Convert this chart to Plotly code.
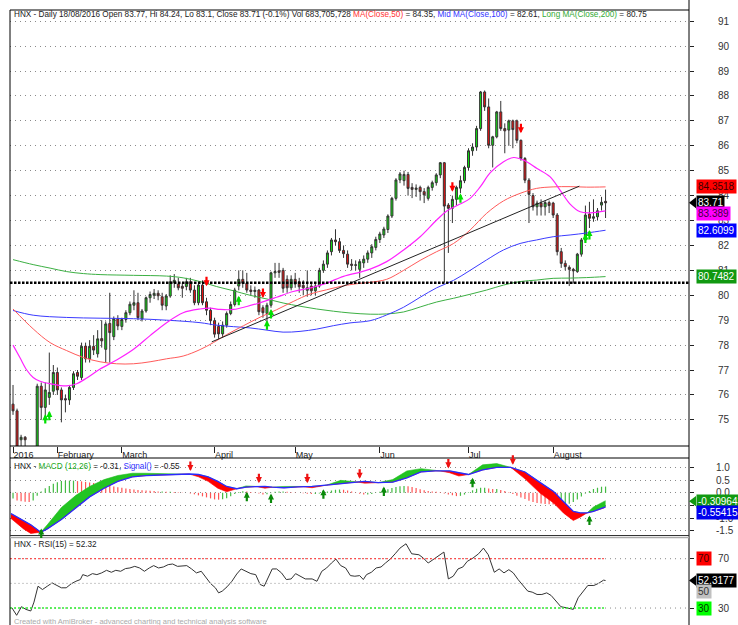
import plotly.graph_objects as go

W, H = 738, 625
FONT = "Liberation Sans, Arial, sans-serif"

def px(x):
    return x / W

def py(y):
    return 1 - y / H

# ---------------- price data (trading-day index 0 = 15 Jan 2016) ----------------
open_ = [75.63,75.36,74.20,74.30,73.80,73.40,73.70,76.35,75.50,75.90,
 76.15,76.90,76.20,75.85,75.80,76.30,76.90,76.70,77.96,77.45,
 77.95,77.65,78.26,77.83,78.87,78.34,79.06,78.75,79.03,79.30,
 79.60,79.70,79.05,79.37,79.90,80.00,80.08,79.94,79.57,79.97,
 80.50,80.45,80.36,80.35,80.54,80.21,79.70,80.41,79.74,79.40,
 78.98,78.75,78.45,78.80,79.27,79.63,80.37,80.64,80.48,80.21,
 80.15,80.21,79.50,79.27,79.60,80.90,80.98,81.00,80.64,80.30,
 80.64,80.54,80.40,80.20,80.37,80.18,80.37,81.00,81.25,81.75,
 82.22,82.15,81.80,81.65,81.25,81.20,81.04,81.30,81.45,81.70,
 81.92,82.24,82.42,82.64,83.18,83.89,84.63,84.60,84.85,84.33,
 84.25,84.33,84.16,83.89,84.33,84.52,84.83,85.32,83.62,83.49,
 83.85,84.30,84.60,85.13,85.80,85.95,86.69,88.16,87.56,86.02,
 86.36,87.36,86.69,86.63,87.00,87.00,86.22,85.49,84.62,84.00,
 83.55,83.70,83.55,83.72,83.70,83.22,81.75,81.28,81.12,81.04,
 80.95,81.65,82.22,83.26,83.09,83.15,83.62,83.77]
high = [76.40,75.45,74.40,74.35,73.90,73.85,76.45,76.50,76.50,77.70,
 77.20,77.10,76.30,76.00,76.40,76.95,77.00,78.10,78.10,78.20,
 78.40,78.60,79.00,78.95,80.10,79.15,79.20,79.10,79.40,79.75,
 80.20,80.10,79.45,79.95,80.15,80.25,80.20,80.10,80.05,80.80,
 80.85,80.70,80.50,80.70,80.70,80.40,80.50,80.60,79.90,79.50,
 79.10,78.90,78.95,79.35,79.75,80.30,81.00,81.00,80.90,80.40,
 80.35,80.25,79.60,79.70,80.95,81.30,81.30,81.10,80.80,80.80,
 80.90,80.70,80.60,81.00,80.50,80.50,81.10,81.40,81.80,82.30,
 82.65,82.30,82.00,81.80,81.45,81.40,81.45,81.60,81.80,82.05,
 82.35,82.55,82.75,83.25,83.95,84.70,84.95,85.00,84.95,84.50,
 84.45,84.40,84.30,84.40,84.60,84.90,85.35,85.35,83.70,84.00,
 84.40,84.80,85.20,85.90,86.10,86.80,88.20,88.22,87.90,86.40,
 87.40,87.80,86.90,87.05,87.05,87.05,86.25,85.55,84.70,84.10,
 83.80,83.85,83.80,83.80,83.75,83.30,81.90,81.40,81.20,81.10,
 81.70,82.30,83.60,83.75,83.85,83.50,83.95,84.24]
low = [75.20,73.80,73.95,73.95,73.20,73.20,73.60,75.00,75.10,75.60,
 76.00,76.00,74.90,75.30,75.60,76.20,76.60,76.60,77.30,77.30,
 77.60,77.50,77.90,77.30,77.30,78.20,78.60,78.60,78.90,79.20,
 79.40,79.00,78.95,79.30,79.70,79.85,79.80,79.40,79.40,79.90,
 80.30,80.20,79.90,80.20,80.10,79.60,79.60,79.60,79.20,78.80,
 78.30,78.25,78.30,78.70,79.20,79.55,80.20,80.30,80.10,80.00,
 79.90,79.20,79.10,78.90,79.50,80.70,80.70,80.10,80.10,80.20,
 80.30,80.10,80.00,79.94,80.00,80.00,80.30,80.90,81.10,81.60,
 82.00,81.70,81.50,81.10,81.00,81.00,80.70,81.10,81.30,81.50,
 81.80,82.10,82.30,82.50,83.10,83.80,84.50,84.40,84.00,83.90,
 83.95,83.80,83.70,83.80,84.20,84.40,84.70,80.52,81.70,82.90,
 83.60,84.10,84.50,85.00,85.60,85.80,86.60,87.40,85.90,85.13,
 86.30,86.60,85.70,86.00,85.90,86.10,85.40,84.50,82.90,83.40,
 83.20,83.20,83.20,83.30,83.10,81.60,81.10,81.00,80.37,80.47,
 80.90,81.55,82.10,82.70,82.95,83.00,83.40,83.10]
close = [75.36,73.90,74.30,74.20,73.40,73.70,76.35,75.50,76.20,76.10,
 76.90,76.20,75.80,75.80,76.30,76.85,76.75,77.95,77.45,77.95,
 77.80,78.25,78.17,78.85,78.50,79.06,78.77,79.03,79.30,79.64,
 79.70,79.10,79.37,79.90,80.03,80.08,79.98,79.60,79.97,80.54,
 80.60,80.30,80.28,80.54,80.21,79.70,80.41,79.70,79.40,78.98,
 78.44,78.45,78.80,79.27,79.63,80.21,80.64,80.48,80.21,80.15,
 80.20,79.34,79.30,79.60,80.90,80.95,80.92,80.28,80.30,80.64,
 80.45,80.34,80.30,80.30,80.18,80.37,81.00,81.25,81.70,82.22,
 82.15,81.80,81.67,81.25,81.20,81.22,81.35,81.45,81.70,81.95,
 82.24,82.46,82.66,83.18,83.89,84.63,84.87,84.85,84.29,84.25,
 84.30,84.16,84.03,84.33,84.52,84.83,85.32,83.58,83.49,83.85,
 84.33,84.60,85.13,85.80,85.95,86.69,88.16,87.56,86.02,86.36,
 87.36,86.69,86.60,87.00,86.65,86.22,85.49,84.62,84.05,83.55,
 83.70,83.55,83.72,83.60,83.22,81.75,81.28,81.15,81.04,80.98,
 81.65,82.22,83.22,83.09,83.15,83.39,83.73,83.71]
days = list(range(len(close)))

month_ticks = [0, 11, 27, 50, 70, 91, 113, 134]
month_labels = ["2016", "February", "March", "April", "May", "Jun", "Jul", "August"]

# moving averages (read at sample positions)
ma20_x = [0,1.7,3.4,5,6.7,9.2,13.3,15.8,18.3,21.6,25.7,29.9,34,38.1,42.2,46.4,48.9,51.4,54.7,58,61.3,65.4,69.5,73.7,77.8,82,86.1,88.6,92.7,96.9,101,105.1,107.6,110.9,113.4,115.9,118.4,121.7,124.2,126.7,130,133.2,135.7,138.2,140.7,143.2,147]
ma20_v = [78.0,77.5,77.0,76.7,76.55,76.45,76.36,76.45,76.68,77.04,77.4,77.83,78.38,78.9,79.3,79.45,79.48,79.43,79.43,79.55,79.7,79.92,80.15,80.29,80.49,80.76,80.93,81.05,81.35,81.82,82.35,83.02,83.38,83.66,83.89,84.35,84.92,85.36,85.53,85.42,85.09,84.76,84.22,83.66,83.35,83.31,83.39]
ma50_x = [0,5,9.2,13.3,17.5,21.6,25.7,29.9,34,38.1,42.2,46.4,49.7,53,57.2,61.3,65.4,69.5,73.7,77.8,82,86.1,88.6,92.7,96.9,101,105.1,109.3,113.4,117.5,121.7,125.8,129.9,134,138.2,142.3,147]
ma50_v = [79.45,78.65,78.1,77.78,77.5,77.33,77.25,77.25,77.33,77.45,77.56,77.82,78.1,78.42,78.78,79.12,79.42,79.75,80.05,80.22,80.38,80.48,80.52,80.64,81.0,81.4,81.75,82.08,82.62,83.29,83.79,84.09,84.29,84.35,84.36,84.34,84.35]
ma100_x = [0,5,13.3,21.6,29.9,38.1,46.4,50.5,54.7,58.8,63,67,71.2,75.3,79.5,83.6,88.6,92.7,96.9,101,105.1,109.3,113.4,117.5,121.7,125.8,129.9,134,138.2,142.3,147]
ma100_v = [79.39,79.2,79.11,79.08,79.06,79.0,78.9,78.8,78.74,78.69,78.6,78.52,78.55,78.64,78.78,78.89,78.98,79.21,79.52,79.92,80.3,80.6,81.0,81.42,81.82,82.08,82.22,82.35,82.42,82.5,82.61]
ma200_x = [0,5,9.2,13.3,17.5,21.6,29.9,38.1,42.2,46.4,50.5,54.7,58.8,63,67,71.2,75.3,79.5,83.6,88.6,92.7,96.9,101,105.1,109.3,113.4,117.5,121.7,125.8,129.9,134,138.2,142.3,147]
ma200_v = [81.43,81.23,81.09,80.95,80.87,80.83,80.8,80.77,80.7,80.55,80.35,80.18,80.0,79.85,79.69,79.56,79.45,79.36,79.29,79.24,79.25,79.33,79.53,79.73,79.88,80.04,80.21,80.41,80.55,80.61,80.68,80.69,80.71,80.75]
trend_x = [49.3, 140.5]
trend_y = [78.13, 84.38]
support_level = 80.5

buy_x = [8, 9, 56, 63, 64, 111, 142, 143]
buy_y = [75.23, 75.36, 79.98, 79.0, 79.45, 84.09, 82.48, 82.62]
sell_x = [48, 62, 109, 126]
sell_y = [80.36, 79.89, 84.15, 86.5]

# ---------------- MACD ----------------
macd_x = [-0.5,2.6,4.4,6.9,8.5,12,15.6,19,22.6,26,29.6,33,36.7,40.2,43.7,46,48.4,50.8,53,55.5,57.8,60,62.5,64.3,67.2,70.7,74.2,77.7,81.3,84.8,87.2,90.6,94.2,97.7,101.2,104.7,108.3,110.6,113,116.5,120,123.5,127,130.8,134.1,136.6,139,140.7,142.4,144,146.6,147]
macd_v = [-1.01,-1.42,-1.60,-1.55,-1.26,-0.58,-0.10,0.25,0.52,0.68,
 0.77,0.77,0.75,0.75,0.74,0.63,0.45,0.18,0.04,0.16,
 0.27,0.26,0.18,0.22,0.25,0.26,0.20,0.30,0.49,0.44,
 0.38,0.40,0.52,0.86,0.95,0.90,0.79,0.66,0.72,1.10,
 1.15,1.00,0.55,-0.02,-0.40,-0.80,-1.09,-0.96,-0.79,-0.56,
 -0.34,-0.31]
signal_v = [-0.82,-1.12,-1.26,-1.55,-1.42,-1.05,-0.58,-0.16,0.18,0.45,
 0.63,0.68,0.70,0.72,0.74,0.72,0.63,0.45,0.25,0.16,
 0.22,0.24,0.25,0.22,0.20,0.23,0.25,0.30,0.36,0.42,
 0.45,0.40,0.42,0.59,0.82,0.86,0.86,0.79,0.72,0.90,
 1.00,1.00,0.82,0.40,0.05,-0.35,-0.73,-0.79,-0.79,-0.73,
 -0.60,-0.554]
hist_v = [-0.22,-0.30,-0.33,-0.35,-0.36,-0.30,-0.12,0.05,0.18,0.27,
 0.36,0.42,0.46,0.47,0.48,0.48,0.46,0.45,0.43,0.41,
 0.39,0.37,0.35,0.33,0.30,0.25,0.22,0.20,0.17,0.15,
 0.13,0.11,0.10,0.09,0.08,0.07,0.05,0.05,0.04,0.04,
 0.03,0.02,0.01,0.00,-0.03,-0.06,-0.10,-0.14,-0.18,-0.22,
 -0.26,-0.27,-0.25,-0.21,-0.14,-0.05,0.03,0.06,0.05,0.03,
 0.01,-0.03,-0.07,-0.06,-0.01,0.04,0.05,0.05,0.04,0.02,
 0.01,0.00,-0.02,-0.04,-0.05,-0.05,-0.03,0.01,0.05,0.09,
 0.12,0.13,0.12,0.09,0.05,0.01,-0.04,-0.07,-0.07,-0.05,
 -0.01,0.04,0.09,0.14,0.19,0.23,0.26,0.27,0.26,0.23,
 0.19,0.14,0.10,0.07,0.05,0.04,0.02,-0.03,-0.07,-0.10,
 -0.13,-0.12,-0.07,0.02,0.10,0.16,0.20,0.20,0.17,0.15,
 0.15,0.11,0.07,0.02,-0.05,-0.12,-0.18,-0.24,-0.31,-0.36,
 -0.40,-0.42,-0.44,-0.45,-0.46,-0.48,-0.47,-0.46,-0.43,-0.36,
 -0.26,-0.15,-0.03,0.07,0.15,0.20,0.24,0.245]
macd_buy_x = [7, 58, 64, 77, 92, 114, 143]
macd_buy_y = [-1.40, 0.04, -0.03, 0.14, 0.25, 0.59, -0.89]
macd_sell_x = [44, 61, 73, 86, 108, 124]
macd_sell_y = [0.86, 0.38, 0.38, 0.55, 0.96, 1.10]

# ---------------- RSI ----------------
rsi_x = [-0.3,0.9,2.1,3.2,4.4,5.2,6.2,7.3,8.5,9.7,10.9,12,13.2,14.4,15.6,16.7,17.3,18.5,19.7,20.8,22,23.2,24.4,25.5,26.7,27.9,29,30.2,31.4,32.6,33.8,34.9,36.1,37.3,38.5,39.6,40.8,42,43.1,44.3,45.5,46.7,47.8,49,50.2,51,51.9,53.1,54.3,55.5,56.6,57.8,59,60.2,61.3,62.3,63.1,64.3,65.4,66.6,67.8,69,70.1,71.3,72.5,74.2,75.4,76.6,77.8,79,80.1,81.3,82.5,83.7,84.8,86,86.9,87.7,88.9,90.1,91.3,92.4,93.6,94.8,96,97.5,98.9,100.7,101.8,103,104.2,105.3,106.9,108,109.2,110.4,111.6,112.7,114.1,115.5,116.7,117.9,119.4,120.6,121.8,123,124.1,125.3,126.5,127.7,128.8,130,131.2,132.4,133.5,134.7,135.9,137.6,139,140.2,141.4,142.6,144.1,145.2,146.5,147]
rsi_v = [30.3,24.1,31.1,28.9,27.6,34.8,47.7,45,47.7,50.4,48.3,46.4,46.4,49.6,51.7,53.1,57.1,55.8,57.9,57.1,58.5,60.6,59,60.6,59.8,62,62.5,63.8,62.5,59.8,62.5,64.4,62.5,63.3,65.2,65.7,63.8,63.8,64.4,61.7,58.5,59.8,55,49.9,46.4,42.3,43.7,47.2,51.7,57.6,61.7,59.8,57.9,57.1,49.1,47.7,53.1,61.7,61.7,58.5,53.1,53.6,57.9,55.8,53.6,53.6,51.7,59.8,62.5,66.5,69.7,64.4,62.5,56.3,55.8,56.3,53.1,57.1,59,62.5,63.3,66.5,69.7,74,78.6,82.1,74,73.2,70.5,66.5,69.2,71.3,75.4,53.6,55.8,61.7,63.3,67.9,70.5,74,78.6,73.2,59,61.7,58.5,61.1,58.5,53.1,48.3,43.7,42.9,41,41,42.3,40.2,35.6,31.1,30,28.9,38.3,43.7,48.3,48.3,49.9,52.6,52.32]

X0, X1 = -0.75, 167.7
fig = go.Figure()

# moving averages and trend line
fig.add_trace(go.Scatter(x=ma200_x, y=ma200_v, mode="lines", line=dict(color="#3cb043", width=1, shape="spline"), xaxis="x", yaxis="y"))
fig.add_trace(go.Scatter(x=ma100_x, y=ma100_v, mode="lines", line=dict(color="#3b3bff", width=1, shape="spline"), xaxis="x", yaxis="y"))
fig.add_trace(go.Scatter(x=ma50_x, y=ma50_v, mode="lines", line=dict(color="#ff5a5a", width=1, shape="spline"), xaxis="x", yaxis="y"))
fig.add_trace(go.Scatter(x=ma20_x, y=ma20_v, mode="lines", line=dict(color="#ff22ff", width=1.2, shape="spline"), xaxis="x", yaxis="y"))
fig.add_trace(go.Scatter(x=trend_x, y=trend_y, mode="lines", line=dict(color="#222", width=1), xaxis="x", yaxis="y"))

fig.add_trace(go.Candlestick(
    x=days, open=open_, high=high, low=low, close=close,
    increasing=dict(fillcolor="#11dd11", line=dict(color="#333", width=1)),
    decreasing=dict(fillcolor="#ee1111", line=dict(color="#333", width=1)),
    whiskerwidth=0, xaxis="x", yaxis="y", hoverinfo="skip"))

# MACD histogram
hist_col = []
for k, v in enumerate(hist_v):
    prev = hist_v[k - 1] if k > 0 else v
    hist_col.append("#44bb44" if v >= prev else "#ff5555")
fig.add_trace(go.Bar(x=days, y=hist_v, marker=dict(color=hist_col, line=dict(width=0)), width=0.3, xaxis="x2", yaxis="y2"))

# MACD / signal band
bx, ba, bb = [macd_x[0]], [macd_v[0]], [signal_v[0]]
for k in range(1, len(macd_x)):
    d0 = macd_v[k - 1] - signal_v[k - 1]
    d1 = macd_v[k] - signal_v[k]
    if d0 * d1 < 0:
        t = d0 / (d0 - d1)
        xc = macd_x[k - 1] + t * (macd_x[k] - macd_x[k - 1])
        yc = signal_v[k - 1] + t * (signal_v[k] - signal_v[k - 1])
        bx.append(xc); ba.append(yc); bb.append(yc)
    bx.append(macd_x[k]); ba.append(macd_v[k]); bb.append(signal_v[k])
upper = [max(a, b) for a, b in zip(ba, bb)]
lower = [min(a, b) for a, b in zip(ba, bb)]
fig.add_trace(go.Scatter(x=bx, y=bb, mode="lines", line=dict(width=0, color="rgba(0,0,0,0)"), xaxis="x2", yaxis="y2"))
fig.add_trace(go.Scatter(x=bx, y=upper, mode="lines", line=dict(width=0.6, color="#22bb22"), fill="tonexty", fillcolor="#22c422", xaxis="x2", yaxis="y2"))
fig.add_trace(go.Scatter(x=bx, y=bb, mode="lines", line=dict(width=0, color="rgba(0,0,0,0)"), xaxis="x2", yaxis="y2"))
fig.add_trace(go.Scatter(x=bx, y=lower, mode="lines", line=dict(width=0.6, color="#ff0000"), fill="tonexty", fillcolor="#ff0000", xaxis="x2", yaxis="y2"))
fig.add_trace(go.Scatter(x=macd_x, y=signal_v, mode="lines", line=dict(width=1.3, color="#2a2aff"), xaxis="x2", yaxis="y2"))

# RSI
fig.add_trace(go.Scatter(x=rsi_x, y=rsi_v, mode="lines", line=dict(width=1, color="#333"), xaxis="x3", yaxis="y3"))

grid = dict(showgrid=True, gridcolor="#8a8a8a", griddash="1px,4px", gridwidth=1, zeroline=False)
axfont = dict(family=FONT, size=10, color="#333")

layout = dict(
    width=W, height=H, margin=dict(l=0, r=0, t=0, b=0, pad=0, autoexpand=False),
    paper_bgcolor="white", plot_bgcolor="white", showlegend=False,
    font=dict(family=FONT, size=9, color="#222"),
    xaxis=dict(domain=[px(10), px(689)], range=[X0, X1], anchor="y", automargin=False,
               tickvals=month_ticks, ticktext=month_labels, ticks="outside", ticklen=6,
               tickcolor="#222", ticklabelposition="outside right",
               tickfont=dict(family=FONT, size=9, color="#222"),
               showgrid=False, zeroline=False, showline=False, rangeslider=dict(visible=False)),
    yaxis=dict(domain=[py(446), py(10)], range=[73.95, 91.45], side="right", anchor="x", automargin=False,
               tickvals=list(range(75, 92)), ticks="outside", ticklen=4, tickcolor="#222",
               ticklabelstandoff=22, tickfont=axfont, **grid),
    xaxis2=dict(domain=[px(10), px(689)], range=[X0, X1], anchor="y2", matches="x", automargin=False,
                showticklabels=False, showgrid=False, zeroline=False, ticks=""),
    yaxis2=dict(domain=[py(536), py(458)], range=[-1.70, 1.37], side="right", anchor="x2", automargin=False,
                tickvals=[1.0, 0.5, 0.0, -0.5, -1.0, -1.5],
                ticktext=["1.0", "0.5", "0.0", "", "-1.0", "-1.5"],
                ticks="outside", ticklen=4, tickcolor="#222", ticklabelstandoff=20,
                tickfont=axfont, **grid),
    xaxis3=dict(domain=[px(10), px(689)], range=[X0, X1], anchor="y3", matches="x", automargin=False,
                showticklabels=False, showgrid=False, zeroline=False, ticks=""),
    yaxis3=dict(domain=[py(620), py(537)], range=[20.3, 87.6], side="right", anchor="x3", automargin=False,
                tickvals=[30, 70], ticks="outside", ticklen=4, tickcolor="#222",
                ticklabelstandoff=22, tickfont=axfont, showgrid=False, zeroline=False),
)
fig.update_layout(**layout)

shapes = []
def pline(x0, y0, x1, y1, color="#000", width=1):
    shapes.append(dict(type="line", xref="paper", yref="paper", x0=px(x0), y0=py(y0),
                       x1=px(x1), y1=py(y1), line=dict(color=color, width=width)))

# support line
shapes.append(dict(type="line", xref="paper", yref="y", x0=px(10), x1=px(689), y0=support_level, y1=support_level,
                   line=dict(color="#000", width=2.6, dash="2.5px,1.5px")))
# RSI reference lines
shapes.append(dict(type="line", xref="paper", yref="y3", x0=px(10), x1=px(689), y0=70, y1=70,
                   line=dict(color="#8a8a8a", width=1, dash="1px,4px"), layer="below"))
shapes.append(dict(type="line", xref="paper", yref="y3", x0=px(10), x1=px(689), y0=30, y1=30,
                   line=dict(color="#8a8a8a", width=1, dash="1px,4px"), layer="below"))
shapes.append(dict(type="line", xref="x3", yref="y3", x0=X0, x1=days[-1], y0=70, y1=70,
                   line=dict(color="#ff3333", width=1, dash="2px,2px")))
shapes.append(dict(type="line", xref="x3", yref="y3", x0=X0, x1=days[-1], y0=50, y1=50,
                   line=dict(color="#c8c8c8", width=1, dash="2px,2px")))
shapes.append(dict(type="line", xref="x3", yref="y3", x0=X0, x1=days[-1], y0=30, y1=30,
                   line=dict(color="#33ee33", width=1.6, dash="2px,2px")))

# frames
pline(10, 10, 689, 10)
pline(10, 10, 10, 625)
pline(689, 0, 689, 625)
pline(10, 446, 689, 446)
pline(10, 458, 689, 458)
pline(10, 535.5, 689, 535.5, "#333", 1)
pline(10, 537.5, 689, 537.5, "#aaa", 1.5)

# value-box pointers
def pointer(yv, yref, d, color):
    shapes.append(dict(type="path", xref="paper", yref=yref,
                       path=f"M {px(689)},{yv} L {px(696)},{yv + d} L {px(696)},{yv - d} Z",
                       fillcolor=color, line=dict(width=0)))
pointer(close[-1], "y", 0.22, "#000")
pointer(-0.33, "y2", 0.2, "#119911")
pointer(rsi_v[-1], "y3", 4.2, "#000")
fig.update_layout(shapes=shapes)

ann = []
def text(x, y, t, size=8.2, color="#222"):
    ann.append(dict(x=px(x), y=py(y), xref="paper", yref="paper", text=t, showarrow=False,
                    xanchor="left", yanchor="middle", font=dict(family=FONT, size=size, color=color)))

text(12, 14.5, "HNX - Daily 18/08/2016 Open 83.77, Hi 84.24, Lo 83.1, Close 83.71 (-0.1%) Vol 683,705,728 "
     "<span style='color:#ff3333'>MA(Close,50)</span> = 84.35, "
     "<span style='color:#3333ff'>Mid MA(Close,100)</span> = 82.61, "
     "<span style='color:#33aa33'>Long MA(Close,200)</span> = 80.75")
text(12, 466, "HNX - <span style='color:#22aa22'>MACD (12,26)</span> = -0.31, "
     "<span style='color:#3333ff'>Signal()</span> = -0.55")
text(12, 544.5, "HNX - RSI(15) = 52.32")
text(12, 621.5, "Created with AmiBroker - advanced charting and technical analysis software", size=7.5, color="#aaa")

def box(t, yv, yref, bg, fg, x0=696):
    ann.append(dict(x=px(x0), xref="paper", y=yv, yref=yref, text=t, showarrow=False,
                    xanchor="left", yanchor="middle", bgcolor=bg, borderpad=1,
                    font=dict(family=FONT, size=10, color=fg)))

box("84.3518", 84.38, "y", "#ff0000", "#3a0000")
box("83.71", close[-1], "y", "#000000", "#ffffff")
box("83.389", 83.30, "y", "#ff00ff", "#400040")
box("82.6099", 82.60, "y", "#0000ff", "#ffffff")
box("80.7482", 80.75, "y", "#119911", "#ffffff")
box("-0.309643", -0.33, "y2", "#119911", "#ffffff")
box("-0.554153", -0.76, "y2", "#0000ee", "#ffffff")
box("70", 70, "y3", "#ff0000", "#400000")
box("52.3177", rsi_v[-1], "y3", "#000000", "#ffffff")
box("50", 43.4, "y3", "#c0c0c0", "#333333")
box("30", 30, "y3", "#00ff00", "#003300")

def arrow(x, y, up, color, yref, xref):
    ann.append(dict(x=x, y=y, xref=xref, yref=yref, text="", showarrow=True, arrowhead=2,
                    arrowsize=0.55, arrowwidth=2.2, arrowcolor=color, ax=0, ay=11 if up else -11,
                    standoff=0))

for x, y in zip(buy_x, buy_y):
    arrow(x, y, True, "#00e000", "y", "x")
for x, y in zip(sell_x, sell_y):
    arrow(x, y, False, "#ff0000", "y", "x")
for x, y in zip(macd_buy_x, macd_buy_y):
    arrow(x, y, True, "#0a8a0a", "y2", "x2")
for x, y in zip(macd_sell_x, macd_sell_y):
    arrow(x, y, False, "#ee1111", "y2", "x2")

fig.update_layout(annotations=ann)
fig.write_html("out.html", config={"displayModeBar": False, "staticPlot": True},
               post_script="document.body.style.margin='0px';document.body.style.overflow='hidden';")
